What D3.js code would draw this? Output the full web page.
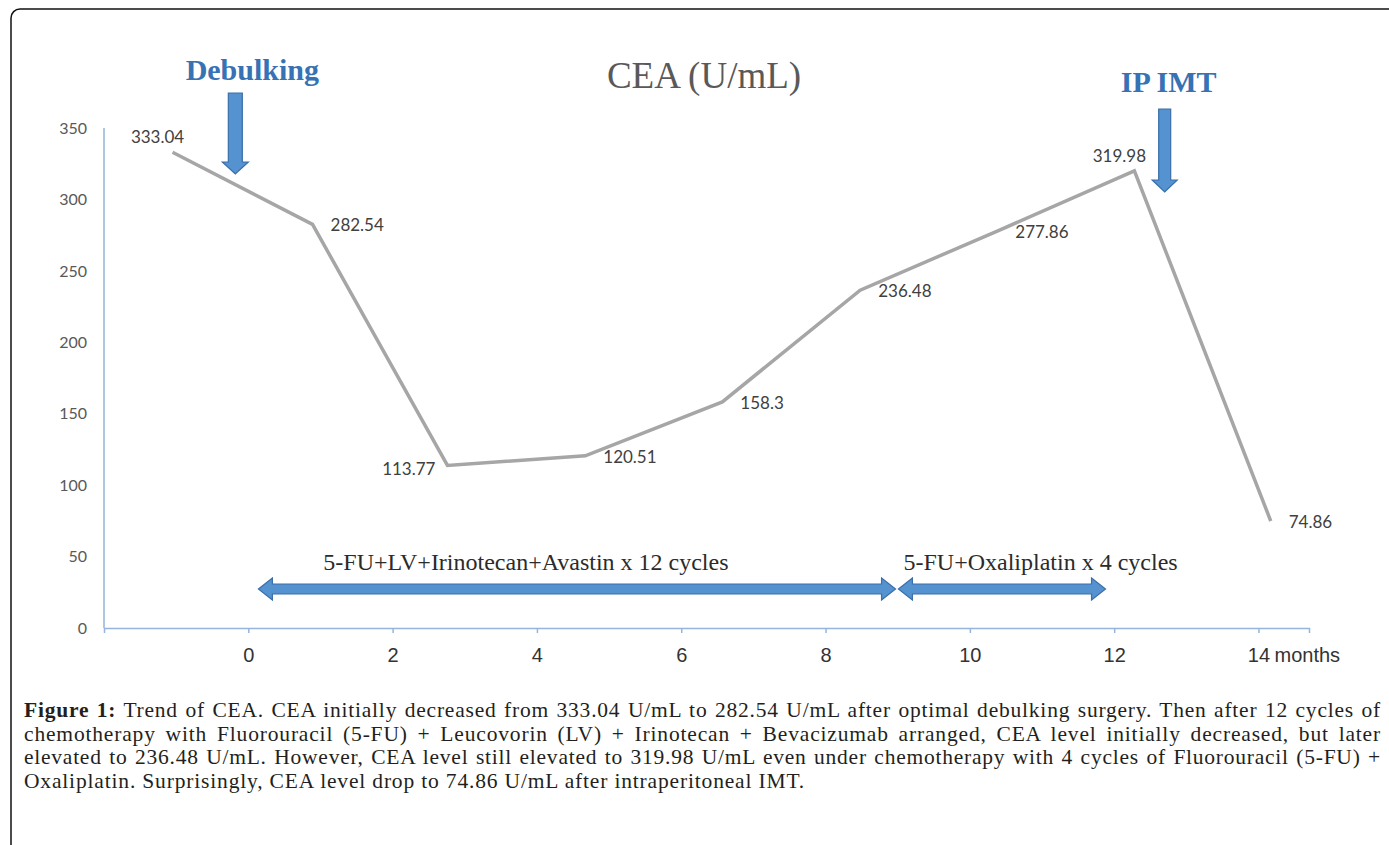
<!DOCTYPE html>
<html>
<head>
<meta charset="utf-8">
<script src="https://cdn.jsdelivr.net/npm/d3@7"></script>
<style>
  body { margin: 0; background: #fff; }
  svg { display: block; }
</style>
</head>
<body>
<svg id="chart"></svg>
<script>
// CEA readings (month, U/mL)
const months = [-1.05, 0.89, 2.76, 4.67, 6.57, 8.48, 10.38, 12.28, 14.17];
const cea = [333.04, 282.54, 113.77, 120.51, 158.3, 236.48, 277.86, 319.98, 74.86];
const labelSide = ["above", "right", "left", "right", "right", "right", "right", "above", "right"];

const yTicks = [0, 50, 100, 150, 200, 250, 300, 350];
const xTicks = [0, 2, 4, 6, 8, 10, 12, 14];

// events marked with vertical arrows
const events = ["Debulking", "IP IMT"];
const eventMonths = [-0.18, 12.7];

// chemo regimens (double arrows)
const regimens = ["5-FU+LV+Irinotecan+Avastin x 12 cycles", "5-FU+Oxaliplatin x 4 cycles"];
const regimenStart = [0.14, 9.01];
const regimenEnd = [8.97, 11.88];
const regimenLabelAt = [1.04, 9.08];

const captionLines = [
  ["Figure 1:", " Trend of CEA. CEA initially decreased from 333.04 U/mL to 282.54 U/mL after optimal debulking surgery. Then after 12 cycles of"],
  ["", "chemotherapy with Fluorouracil (5-FU) + Leucovorin (LV) + Irinotecan + Bevacizumab arranged, CEA level initially decreased, but later"],
  ["", "elevated to 236.48 U/mL. However, CEA level still elevated to 319.98 U/mL even under chemotherapy with 4 cycles of Fluorouracil (5-FU) +"],
  ["", "Oxaliplatin. Surprisingly, CEA level drop to 74.86 U/mL after intraperitoneal IMT."]
];

const W = 1389, H = 845;
const svg = d3.select("#chart").attr("width", W).attr("height", H);

// frame
svg.append("rect")
  .attr("x", 11).attr("y", 9)
  .attr("width", 1420).attr("height", 870)
  .attr("rx", 9)
  .attr("fill", "none").attr("stroke", "#111").attr("stroke-width", 1.5);

const x = d3.scaleLinear().domain([-2, 14.7]).range([104, 1309]);
const y = d3.scaleLinear().domain([0, 350]).range([628, 128]);

const axisColor = "#95b5dc";

// y axis: plain line + labels
svg.append("line")
  .attr("x1", x(-2)).attr("x2", x(-2))
  .attr("y1", y(350)).attr("y2", y(0))
  .attr("stroke", axisColor).attr("stroke-width", 1.5);

svg.selectAll(".ytick")
  .data(yTicks)
  .enter()
  .append("text")
  .attr("class", "ytick")
  .attr("x", 87)
  .attr("y", (d) => y(d))
  .attr("dy", "0.36em")
  .attr("text-anchor", "end")
  .style("font-family", "Lato, 'Open Sans', sans-serif")
  .style("font-size", "16px")
  .attr("fill", "#595959")
  .text((d) => d);

// x axis
const xAxis = svg.append("g")
  .attr("transform", `translate(0,${y(0)})`)
  .call(d3.axisBottom(x).tickValues(xTicks).tickSize(5).tickPadding(15).tickFormat(d3.format("d")));
xAxis.select(".domain").attr("stroke", axisColor).attr("stroke-width", 1.5);
xAxis.selectAll(".tick line").attr("stroke", axisColor).attr("stroke-width", 1.5);
xAxis.selectAll(".tick text")
  .attr("fill", "#333")
  .style("font-family", "'Liberation Sans', Arial, sans-serif")
  .style("font-size", "20px");

svg.append("text")
  .attr("x", x(14) + 16)
  .attr("y", 662)
  .style("font-family", "'Liberation Sans', Arial, sans-serif")
  .style("font-size", "20px")
  .attr("fill", "#333")
  .text("months");

// title
svg.append("text")
  .attr("x", 704)
  .attr("y", 88)
  .attr("text-anchor", "middle")
  .style("font-family", "'Liberation Serif', 'Times New Roman', serif")
  .style("font-size", "37px")
  .attr("fill", "#595959")
  .text("CEA (U/mL)");

// data line
const pts = months.map((m, i) => ({ m: m, v: cea[i], side: labelSide[i] }));

svg.append("path")
  .datum(pts)
  .attr("fill", "none")
  .attr("stroke", "#a6a6a6")
  .attr("stroke-width", 3.5)
  .attr("d", d3.line().x((d) => x(d.m)).y((d) => y(d.v)));

svg.selectAll(".dlabel")
  .data(pts)
  .enter()
  .append("text")
  .attr("class", "dlabel")
  .attr("x", (d) => {
    if (d.side === "right") return x(d.m) + 18;
    if (d.side === "left") return x(d.m) - 12;
    return x(d.m) - 15;
  })
  .attr("y", (d) => {
    if (d.side === "above") return y(d.v) - 15;
    if (d.side === "left") return y(d.v) + 4;
    return y(d.v) + 1;
  })
  .attr("dy", "0.35em")
  .attr("text-anchor", (d) => (d.side === "right" ? "start" : d.side === "left" ? "end" : "middle"))
  .style("font-family", "Lato, 'Open Sans', sans-serif")
  .style("font-size", "17px")
  .attr("fill", "#404040")
  .text((d) => d.v);

// block arrows
const arrowFill = "#5592d0";
const arrowStroke = "#3b6fa9";

function downArrow(cx, top, tip, sw, hw, hl) {
  return `M${cx - sw},${top}L${cx + sw},${top}L${cx + sw},${tip - hl}L${cx + hw},${tip - hl}` +
    `L${cx},${tip}L${cx - hw},${tip - hl}L${cx - sw},${tip - hl}Z`;
}

function doubleArrow(x1, x2, cy, sw, hw, hl) {
  return `M${x1},${cy}L${x1 + hl},${cy - hw}L${x1 + hl},${cy - sw}L${x2 - hl},${cy - sw}` +
    `L${x2 - hl},${cy - hw}L${x2},${cy}L${x2 - hl},${cy + hw}L${x2 - hl},${cy + sw}` +
    `L${x1 + hl},${cy + sw}L${x1 + hl},${cy + hw}Z`;
}

const eventGeom = [
  { top: 93, tip: 174, sw: 7, hw: 13, hl: 12, ty: 80 },
  { top: 109, tip: 192, sw: 6, hw: 12.5, hl: 12, ty: 92 }
];

events.forEach((name, i) => {
  const g = eventGeom[i];
  const cx = x(eventMonths[i]);
  svg.append("path")
    .attr("d", downArrow(cx, g.top, g.tip, g.sw, g.hw, g.hl))
    .attr("fill", arrowFill).attr("stroke", arrowStroke).attr("stroke-width", 1.2);
  svg.append("text")
    .attr("x", i === 0 ? cx + 17 : cx + 4)
    .attr("y", g.ty)
    .attr("text-anchor", "middle")
    .style("font-family", "'Liberation Serif', 'Times New Roman', serif")
    .style("font-size", "30px")
    .style("font-weight", "bold")
    .attr("fill", "#3672b4")
    .text(name);
});

regimens.forEach((name, i) => {
  svg.append("path")
    .attr("d", doubleArrow(x(regimenStart[i]), x(regimenEnd[i]), 589, 5, 11, 14))
    .attr("fill", arrowFill).attr("stroke", arrowStroke).attr("stroke-width", 1.2);
  svg.append("text")
    .attr("x", x(regimenLabelAt[i]))
    .attr("y", 570)
    .style("font-family", "'Liberation Serif', 'Times New Roman', serif")
    .style("font-size", "24px")
    .attr("fill", "#2b2b2b")
    .text(name);
});

// caption, justified like the journal figure
const capLeft = 24, capRight = 1381, lastLineEnd = 805;
const capLines = captionLines.map((line, i) => {
  const t = svg.append("text")
    .attr("x", capLeft)
    .attr("y", 717 + i * 23.7)
    .style("font-family", "'Liberation Serif', 'Times New Roman', serif")
    .style("font-size", "21.5px")
    .attr("fill", "#231f20");
  if (line[0]) t.append("tspan").style("font-weight", "bold").text(line[0]);
  t.append("tspan").text(line[1]);
  return t;
});

// widen the tracking a touch so the serif matches the original's wider face
const last = capLines[capLines.length - 1];
const lastText = captionLines[captionLines.length - 1].join("");
const track = Math.max(0, (lastLineEnd - capLeft - last.node().getComputedTextLength()) / lastText.length);
const full = capRight - capLeft;
capLines.forEach((t, i) => {
  const txt = captionLines[i].join("");
  t.style("letter-spacing", track + "px");
  if (i === capLines.length - 1) return;
  let natural = t.node().getComputedTextLength();
  let ls = track;
  // keep justified lines inside the box: give back tracking first
  if (natural > full - 30) {
    ls = Math.max(0, track - (natural - (full - 30)) / txt.length);
    t.style("letter-spacing", ls + "px");
    natural = t.node().getComputedTextLength();
  }
  const spaces = txt.split(" ").length - 1;
  t.style("word-spacing", ((full - natural) / spaces) + "px");
});
</script>
</body>
</html>
